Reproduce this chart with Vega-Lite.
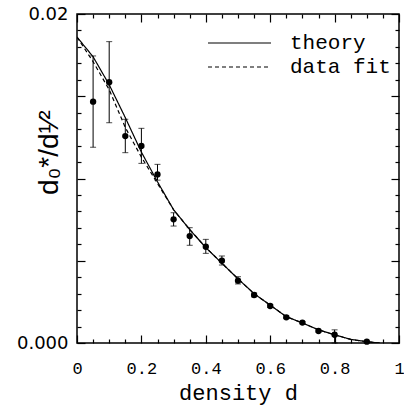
{
  "$schema": "https://vega.github.io/schema/vega-lite/v6.json",
  "width": 322,
  "height": 329,
  "autosize": {"type": "none"},
  "padding": {"left": 77, "top": 14, "right": 5, "bottom": 67},
  "background": "white",
  "config": {
    "view": {"stroke": "black", "strokeWidth": 1.5},
    "axis": {"domain": false, "grid": false, "tickColor": "black", "tickWidth": 1.2, "labelColor": "black", "titleColor": "black"}
  },
  "datasets": {
    "pts": [
      {"d": 0.05, "v": 0.01467, "lo": 0.0119, "hi": 0.01745},
      {"d": 0.1, "v": 0.01585, "lo": 0.01339, "hi": 0.01832},
      {"d": 0.15, "v": 0.01258, "lo": 0.01157, "hi": 0.0136},
      {"d": 0.2, "v": 0.01198, "lo": 0.01092, "hi": 0.01305},
      {"d": 0.25, "v": 0.01025, "lo": 0.0099, "hi": 0.01086},
      {"d": 0.3, "v": 0.00752, "lo": 0.00711, "hi": 0.00792},
      {"d": 0.35, "v": 0.0065, "lo": 0.00594, "hi": 0.00701},
      {"d": 0.4, "v": 0.00585, "lo": 0.00545, "hi": 0.0063},
      {"d": 0.45, "v": 0.005, "lo": 0.00474, "hi": 0.00529},
      {"d": 0.5, "v": 0.00379, "lo": 0.00359, "hi": 0.00403},
      {"d": 0.55, "v": 0.00292, "lo": 0.0028, "hi": 0.00304},
      {"d": 0.6, "v": 0.00225, "lo": 0.00216, "hi": 0.00234},
      {"d": 0.65, "v": 0.00156, "lo": 0.00148, "hi": 0.00164},
      {"d": 0.7, "v": 0.00124, "lo": 0.00117, "hi": 0.00131},
      {"d": 0.75, "v": 0.00073, "lo": 0.00067, "hi": 0.00079},
      {"d": 0.8, "v": 0.0005, "lo": 0.0, "hi": 0.0008},
      {"d": 0.9, "v": 0.00008, "lo": 0.00004, "hi": 0.00012}
    ],
    "curves": [
      {"series": "theory", "d": 0.0, "v": 0.0186},
      {"series": "theory", "d": 0.05, "v": 0.0174},
      {"series": "theory", "d": 0.1, "v": 0.0157},
      {"series": "theory", "d": 0.15, "v": 0.0137},
      {"series": "theory", "d": 0.2, "v": 0.0116},
      {"series": "theory", "d": 0.25, "v": 0.0098},
      {"series": "theory", "d": 0.3, "v": 0.0081},
      {"series": "theory", "d": 0.35, "v": 0.0069},
      {"series": "theory", "d": 0.4, "v": 0.0058},
      {"series": "theory", "d": 0.45, "v": 0.00485},
      {"series": "theory", "d": 0.5, "v": 0.0039},
      {"series": "theory", "d": 0.55, "v": 0.003},
      {"series": "theory", "d": 0.6, "v": 0.0023},
      {"series": "theory", "d": 0.65, "v": 0.0016},
      {"series": "theory", "d": 0.7, "v": 0.00122},
      {"series": "theory", "d": 0.75, "v": 0.0008},
      {"series": "theory", "d": 0.8, "v": 0.0005},
      {"series": "theory", "d": 0.85, "v": 0.00022},
      {"series": "theory", "d": 0.9, "v": 0.00008},
      {"series": "theory", "d": 0.94, "v": 0.0},
      {"series": "data fit", "d": 0.0, "v": 0.0186},
      {"series": "data fit", "d": 0.05, "v": 0.0171},
      {"series": "data fit", "d": 0.1, "v": 0.0154},
      {"series": "data fit", "d": 0.15, "v": 0.0131},
      {"series": "data fit", "d": 0.2, "v": 0.0113},
      {"series": "data fit", "d": 0.25, "v": 0.0097},
      {"series": "data fit", "d": 0.3, "v": 0.0081},
      {"series": "data fit", "d": 0.35, "v": 0.0069},
      {"series": "data fit", "d": 0.4, "v": 0.0058},
      {"series": "data fit", "d": 0.45, "v": 0.00485},
      {"series": "data fit", "d": 0.5, "v": 0.0039},
      {"series": "data fit", "d": 0.55, "v": 0.003},
      {"series": "data fit", "d": 0.6, "v": 0.0023},
      {"series": "data fit", "d": 0.65, "v": 0.0016},
      {"series": "data fit", "d": 0.7, "v": 0.00122},
      {"series": "data fit", "d": 0.75, "v": 0.0008},
      {"series": "data fit", "d": 0.8, "v": 0.0005},
      {"series": "data fit", "d": 0.85, "v": 0.00022},
      {"series": "data fit", "d": 0.9, "v": 0.00008},
      {"series": "data fit", "d": 0.94, "v": 0.0}
    ]
  },
  "layer": [
    {
      "data": {"name": "curves"},
      "mark": {"type": "line", "color": "black", "strokeWidth": 1.2, "clip": true},
      "encoding": {
        "x": {"field": "d", "type": "quantitative", "scale": {"domain": [0, 1], "nice": false},
          "axis": {"orient": "top", "title": null, "labels": false,
            "values": [0,0.05,0.1,0.15,0.2,0.25,0.3,0.35,0.4,0.45,0.5,0.55,0.6,0.65,0.7,0.75,0.8,0.85,0.9,0.95,1],
            "tickSize": {"condition": {"test": "abs(datum.value*5-round(datum.value*5))<0.001", "value": -8}, "value": -4}}},
        "y": {"field": "v", "type": "quantitative", "scale": {"domain": [0, 0.02], "nice": false},
          "axis": {"orient": "right", "title": null, "labels": false,
            "values": [0,0.001,0.002,0.003,0.004,0.005,0.006,0.007,0.008,0.009,0.01,0.011,0.012,0.013,0.014,0.015,0.016,0.017,0.018,0.019,0.02],
            "tickSize": {"condition": {"test": "abs(datum.value*200-round(datum.value*200))<0.001", "value": -8}, "value": -4}}},
        "strokeDash": {"field": "series", "type": "nominal",
          "scale": {"domain": ["theory", "data fit"], "range": [[1, 0], [4, 3]]},
          "legend": {"orient": "none", "legendX": 151, "legendY": 17.5, "title": null,
            "symbolType": "M-3,0H3", "symbolSize": 441, "symbolStrokeColor": "black", "symbolStrokeWidth": 1.2,
            "labelFont": "Liberation Mono", "labelFontSize": 21, "labelColor": "black", "labelOffset": 39, "rowPadding": 2}}
      }
    },
    {
      "data": {"name": "pts"},
      "mark": {"type": "rule", "color": "black", "strokeWidth": 1},
      "encoding": {
        "x": {"field": "d", "type": "quantitative", "axis": null},
        "y": {"field": "lo", "type": "quantitative", "axis": null},
        "y2": {"field": "hi"}
      }
    },
    {
      "data": {"name": "pts"},
      "mark": {"type": "tick", "color": "black", "orient": "horizontal", "size": 6, "thickness": 1},
      "encoding": {
        "x": {"field": "d", "type": "quantitative", "axis": null},
        "y": {"field": "lo", "type": "quantitative", "axis": null}
      }
    },
    {
      "data": {"name": "pts"},
      "mark": {"type": "tick", "color": "black", "orient": "horizontal", "size": 6, "thickness": 1},
      "encoding": {
        "x": {"field": "d", "type": "quantitative", "axis": null},
        "y": {"field": "hi", "type": "quantitative", "axis": null}
      }
    },
    {
      "data": {"name": "pts"},
      "mark": {"type": "circle", "color": "black", "opacity": 1, "size": 40},
      "encoding": {
        "x": {"field": "d", "type": "quantitative",
          "axis": {"orient": "bottom", "title": "density d", "titleFont": "Liberation Mono", "titleFontSize": 22, "titleFontWeight": "normal", "titlePadding": 2,
            "labelFont": "Liberation Mono", "labelFontSize": 17, "labelPadding": 25, "labelFlush": false, "labelOverlap": false,
            "values": [0,0.05,0.1,0.15,0.2,0.25,0.3,0.35,0.4,0.45,0.5,0.55,0.6,0.65,0.7,0.75,0.8,0.85,0.9,0.95,1],
            "labelExpr": "abs(datum.value*5-round(datum.value*5))<0.001 ? format(datum.value,'.1~f') : ''",
            "tickSize": {"condition": {"test": "abs(datum.value*5-round(datum.value*5))<0.001", "value": -8}, "value": -4}}},
        "y": {"field": "v", "type": "quantitative",
          "axis": {"orient": "left", "title": "d₀*/d¹⁄²", "titleFont": "Liberation Sans", "titleFontSize": 28, "titleFontWeight": "normal",
            "titleAngle": -90, "titleBaseline": "alphabetic", "titleAlign": "center", "titleX": -20, "titleY": 138,
            "labelFont": "DejaVu Sans", "labelFontSize": 18, "labelPadding": 17, "labelFlush": false, "labelOverlap": false, "labelBaseline": "middle",
            "values": [0,0.001,0.002,0.003,0.004,0.005,0.006,0.007,0.008,0.009,0.01,0.011,0.012,0.013,0.014,0.015,0.016,0.017,0.018,0.019,0.02],
            "labelExpr": "datum.value==0 ? '0.000' : (abs(datum.value-0.02)<0.0000001 ? '0.02' : '')",
            "tickSize": {"condition": {"test": "abs(datum.value*200-round(datum.value*200))<0.001", "value": -8}, "value": -4}}}
      }
    }
  ],
  "resolve": {"axis": {"x": "independent", "y": "independent"}}
}
